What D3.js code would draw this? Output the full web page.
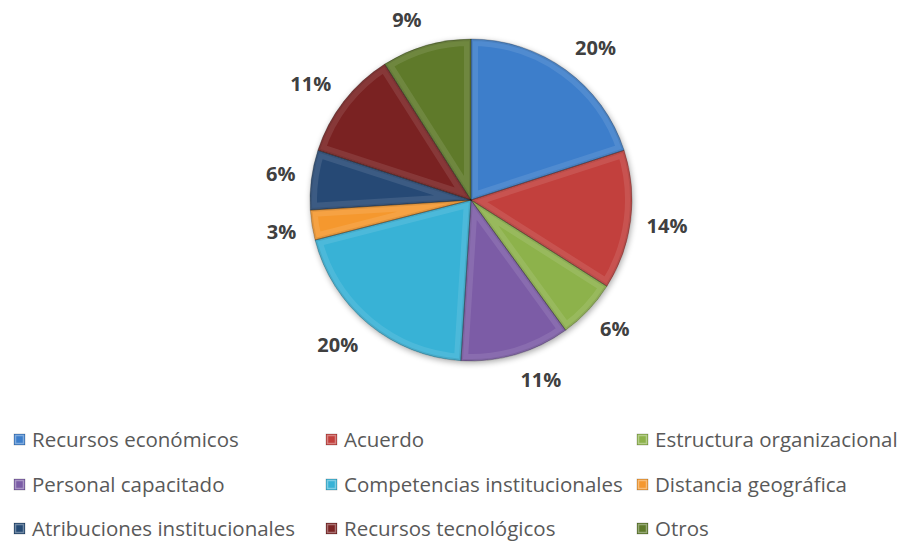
<!DOCTYPE html>
<html>
<head>
<meta charset="utf-8">
<script src="https://cdn.jsdelivr.net/npm/d3@7"></script>
<style>
  body { margin: 0; background: #fff; }
  svg { font-family: "Open Sans", Lato, sans-serif; }
</style>
</head>
<body>
<div id="chart"></div>
<script>
// categories and shares (percent)
var categories = ["Recursos económicos", "Acuerdo", "Estructura organizacional",
                  "Personal capacitado", "Competencias institucionales", "Distancia geográfica",
                  "Atribuciones institucionales", "Recursos tecnológicos", "Otros"];
var values = [20, 14, 6, 11, 20, 3, 6, 11, 9];
var colors = ["#3d7ecb", "#c23f3c", "#8db24b", "#7b5ca6", "#37b2d6", "#f5982f",
              "#254a74", "#7a2424", "#5e7a2b"];

var width = 902, height = 542;
var cx = 471, cy = 200, radius = 161;

var svg = d3.select("#chart").append("svg")
    .attr("width", width)
    .attr("height", height);

var defs = svg.append("defs");

// soft shadow under the pie
var shadow = defs.append("filter").attr("id", "shadow")
    .attr("x", "-20%").attr("y", "-20%").attr("width", "140%").attr("height", "140%");
shadow.append("feGaussianBlur").attr("in", "SourceAlpha").attr("stdDeviation", 3);
shadow.append("feOffset").attr("dx", 1).attr("dy", 2).attr("result", "off");
shadow.append("feComponentTransfer").append("feFuncA").attr("type", "linear").attr("slope", 0.35);
var merge = shadow.append("feMerge");
merge.append("feMergeNode");
merge.append("feMergeNode").attr("in", "SourceGraphic");

var pie = d3.pie().sort(null).value(function(d) { return d; });
var arc = d3.arc().innerRadius(0).outerRadius(radius);

var arcs = pie(values);

var g = svg.append("g").attr("transform", "translate(" + cx + "," + cy + ")");

// clip paths so the bevel stroke stays inside each slice
arcs.forEach(function(d, i) {
    defs.append("clipPath").attr("id", "clip" + i)
        .append("path").attr("d", arc(d));
});

var slices = g.append("g").attr("filter", "url(#shadow)");

slices.selectAll("path.slice")
    .data(arcs)
    .enter().append("path")
    .attr("class", "slice")
    .attr("d", arc)
    .style("fill", function(d, i) { return colors[i]; });

// bevel: faint light rim, darker fold lines
var bevel = g.append("g");
bevel.selectAll("path.hi")
    .data(arcs)
    .enter().append("path")
    .attr("class", "hi")
    .attr("d", arc)
    .attr("clip-path", function(d, i) { return "url(#clip" + i + ")"; })
    .style("fill", "none")
    .style("stroke", "#fff")
    .style("stroke-opacity", 0.1)
    .style("stroke-width", 14);
bevel.selectAll("path.sh")
    .data(arcs)
    .enter().append("path")
    .attr("class", "sh")
    .attr("d", arc)
    .attr("clip-path", function(d, i) { return "url(#clip" + i + ")"; })
    .style("fill", "none")
    .style("stroke", "#000")
    .style("stroke-opacity", 0.08)
    .style("stroke-width", 4);
bevel.selectAll("path.edge")
    .data(arcs)
    .enter().append("path")
    .attr("class", "edge")
    .attr("d", arc)
    .style("fill", "none")
    .style("stroke", "#000")
    .style("stroke-opacity", 0.3)
    .style("stroke-width", 0.8);

// percentage labels outside the slices, pushed out by half the label box
var labelR = 177, labelH = 20;
var pct = g.selectAll("text.pct")
    .data(arcs)
    .enter().append("text")
    .attr("class", "pct")
    .attr("text-anchor", "middle")
    .attr("dy", "0.35em")
    .style("font-size", "20px")
    .style("font-weight", "bold")
    .style("fill", "#404040")
    .text(function(d) { return d.value + "%"; });

pct.attr("transform", function(d) {
    var a = (d.startAngle + d.endAngle) / 2;
    var ux = Math.sin(a), uy = -Math.cos(a);
    var w = this.getComputedTextLength();
    var x = ux * labelR + Math.sign(ux) * w / 2;
    var y = uy * labelR + Math.sign(uy) * Math.sqrt(Math.abs(uy)) * labelH / 2;
    return "translate(" + x + "," + y + ")";
});

// legend, 3 columns x 3 rows
var colX = [14, 326, 637];
var rowY = [440, 485, 529];

var legend = svg.append("g");
var item = legend.selectAll("g.item")
    .data(categories)
    .enter().append("g")
    .attr("class", "item")
    .attr("transform", function(d, i) {
        return "translate(" + colX[i % 3] + "," + rowY[Math.floor(i / 3)] + ")";
    });

item.append("rect")
    .attr("x", 0).attr("y", -6)
    .attr("width", 11).attr("height", 11)
    .style("fill", function(d, i) { return colors[i]; })
    .style("stroke", "#000").style("stroke-opacity", 0.3).style("stroke-width", 0.6);
item.append("rect")
    .attr("x", 1.5).attr("y", -4.5)
    .attr("width", 8).attr("height", 8)
    .style("fill", "none")
    .style("stroke", "#fff").style("stroke-opacity", 0.35).style("stroke-width", 1.5);

item.append("text")
    .attr("x", 18)
    .attr("dy", "0.35em")
    .style("font-size", "20.5px")
    .style("fill", "#595959")
    .text(function(d) { return d; });
</script>
</body>
</html>
